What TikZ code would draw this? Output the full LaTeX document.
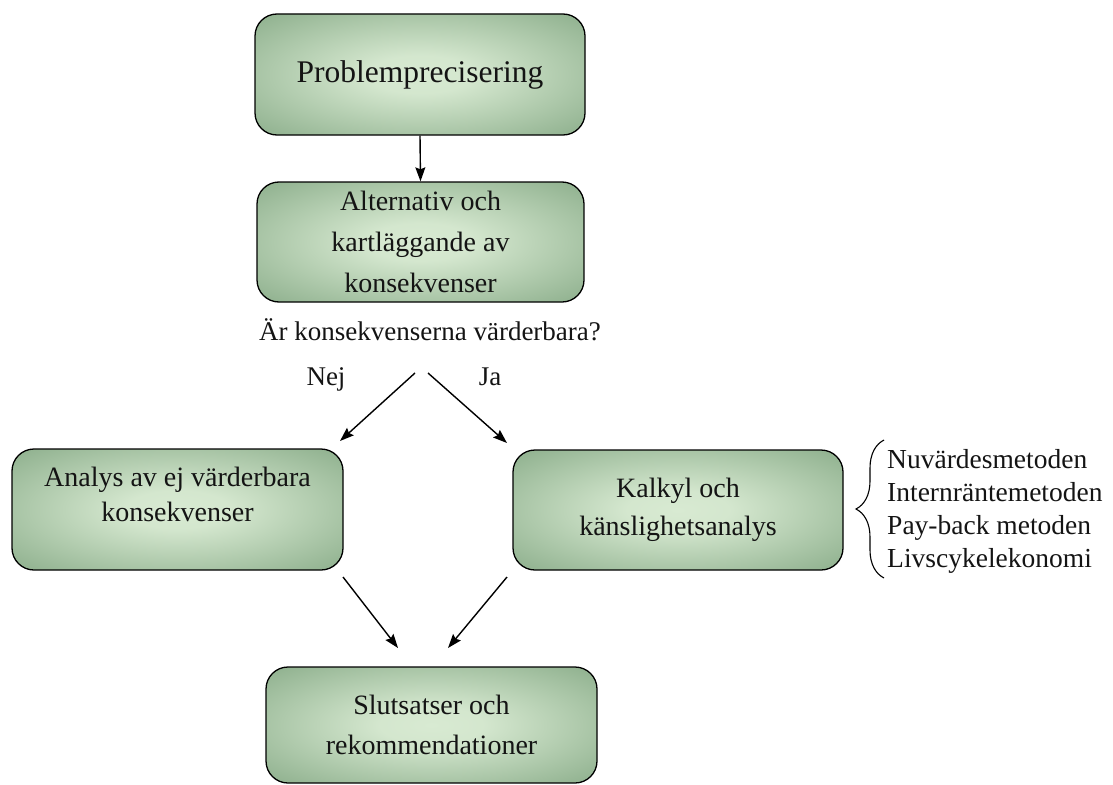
\documentclass[tikz,border=0pt]{standalone}
\usepackage{fontspec}
\setmainfont{Liberation Serif}
\usetikzlibrary{arrows.meta,decorations.pathreplacing}
\definecolor{boxin}{RGB}{216,234,210}
\definecolor{boxout}{RGB}{104,146,106}
\definecolor{txt}{RGB}{20,20,20}
\pgfdeclareradialshading{boxshade}{\pgfpoint{0bp}{0bp}}{color(0bp)=(boxin); color(8bp)=(boxin!96!boxout); color(50bp)=(boxout)}
\begin{document}
\begin{tikzpicture}[x=1pt,y=-1pt,
  box/.style={draw=black, line width=1.3pt, rounded corners=22pt,
    shading=boxshade, align=center, inner sep=0pt,
    text=txt},
  boxtxt/.style={align=center, inner sep=0pt, text=txt},
  plain/.style={inner sep=0pt, text=txt},
  arr/.style={draw=black, line width=1.4pt, -{Stealth[length=14pt,width=10pt,inset=2pt]}}
]
\useasboundingbox (0,0) rectangle (1113,784);

\node[box, minimum width=330pt, minimum height=121pt,
  font=\fontsize{31.5}{38}\selectfont] (p) at (420,74.5) {Problemprecisering};

\node[box, minimum width=327pt, minimum height=120pt,
  font=\fontsize{28}{41}\selectfont] (alt) at (420.5,242)
  {Alternativ och\\kartläggande av\\konsekvenser};

\node[plain, anchor=base, font=\fontsize{27}{32}\selectfont] (q) at (430,340)
  {Är konsekvenserna värderbara?};
\node[plain, anchor=base, font=\fontsize{27}{32}\selectfont] (nej) at (326,385) {Nej};
\node[plain, anchor=base, font=\fontsize{27}{32}\selectfont] (ja) at (490,385) {Ja};

\node[box, minimum width=331pt, minimum height=121pt,
  label={[boxtxt, yshift=15pt, font=\fontsize{28}{35}\selectfont]center:{Analys av ej värderbara\\konsekvenser}}]
  (ana) at (177.5,509.5) {};

\node[box, minimum width=330pt, minimum height=120pt,
  font=\fontsize{28}{38}\selectfont] (kal) at (678,510)
  {Kalkyl och\\känslighetsanalys};

\node[box, minimum width=331pt, minimum height=116pt,
  font=\fontsize{28}{40}\selectfont] (slut) at (431.5,725)
  {Slutsatser och\\rekommendationer};

\node[plain, anchor=west, align=left, font=\fontsize{27.5}{33}\selectfont] (list) at (887,511)
  {Nuvärdesmetoden\\Internräntemetoden\\Pay-back metoden\\Livscykelekonomi};

\coordinate (brb) at (884,578);
\coordinate (brt) at (884,440);
\draw[line width=1.1pt, decorate, decoration={brace, amplitude=28pt}] (brb) -- (brt);

\coordinate (nejA) at (415,373);
\coordinate (nejB) at (340,441);
\coordinate (jaA) at (428,373);
\coordinate (jaB) at (507,443);
\coordinate (lA) at (343,577);
\coordinate (lB) at (398,648);
\coordinate (rA) at (507,577);
\coordinate (rB) at (448,648);

\draw[arr] (p.south) -- (alt.north);
\draw[arr] (nejA) -- (nejB);
\draw[arr] (jaA) -- (jaB);
\draw[arr] (lA) -- (lB);
\draw[arr] (rA) -- (rB);
\end{tikzpicture}
\end{document}
